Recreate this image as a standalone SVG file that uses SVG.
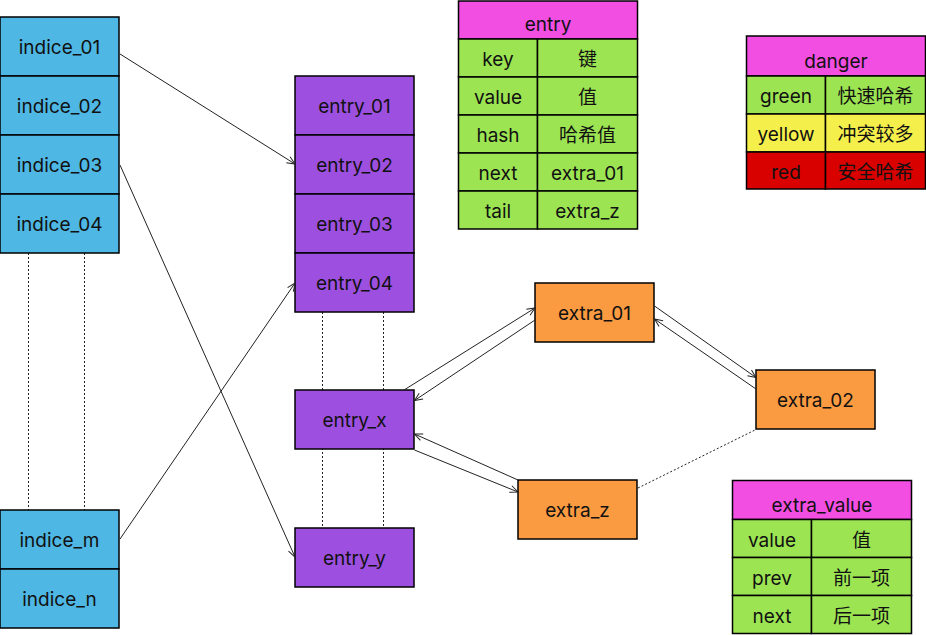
<svg xmlns="http://www.w3.org/2000/svg" width="926" height="635" viewBox="0 0 926 635">
<style>
text{font-family:Inter,"Noto Sans","Noto Sans CJK SC",sans-serif;font-size:19px;fill:#111;text-anchor:middle}
.b{fill:#4fb7e3;stroke:#000;stroke-width:1.5}
.p{fill:#9d50df;stroke:#000;stroke-width:1.5}
.o{fill:#fb9b41;stroke:#000;stroke-width:1.5}
.m{fill:#f24ee2;stroke:#000;stroke-width:1.5}
.g{fill:#9de453;stroke:#000;stroke-width:1.5}
.y{fill:#f5ef4c;stroke:#000;stroke-width:1.5}
.r{fill:#d90000;stroke:#000;stroke-width:1.5}
.c{fill:none;stroke:#222;stroke-width:1}
.d{fill:none;stroke:#222;stroke-width:1;stroke-dasharray:2 2}
</style>
<defs>
<marker id="a" markerWidth="10" markerHeight="10" refX="9" refY="5" orient="auto" markerUnits="userSpaceOnUse">
<path d="M1,1.5 L9,5 L1,8.5" fill="none" stroke="#222" stroke-width="1"/>
</marker>
</defs>
<g id="dotted">
<line class="d" x1="28.5" y1="253" x2="28.5" y2="510"/>
<line class="d" x1="84.5" y1="253" x2="84.5" y2="510"/>
<line class="d" x1="322.5" y1="312" x2="322.5" y2="528"/>
<line class="d" x1="383.5" y1="312" x2="383.5" y2="528"/>
</g>
<g id="indices">
<g id="indice_01"><rect class="b" x="0" y="17" width="119" height="59"/><text x="59.5" y="54">indice_01</text></g>
<g id="indice_02"><rect class="b" x="0" y="76" width="119" height="59"/><text x="59.5" y="113">indice_02</text></g>
<g id="indice_03"><rect class="b" x="0" y="135" width="119" height="59"/><text x="59.5" y="172">indice_03</text></g>
<g id="indice_04"><rect class="b" x="0" y="194" width="119" height="59"/><text x="59.5" y="231">indice_04</text></g>
<g id="indice_m"><rect class="b" x="0" y="510" width="119" height="59"/><text x="59.5" y="547">indice_m</text></g>
<g id="indice_n"><rect class="b" x="0" y="569" width="119" height="59"/><text x="59.5" y="606">indice_n</text></g>
</g>
<g id="entries">
<g id="entry_01"><rect class="p" x="295" y="76" width="119" height="59"/><text x="354.5" y="113">entry_01</text></g>
<g id="entry_02"><rect class="p" x="295" y="135" width="119" height="59"/><text x="354.5" y="172">entry_02</text></g>
<g id="entry_03"><rect class="p" x="295" y="194" width="119" height="59"/><text x="354.5" y="231">entry_03</text></g>
<g id="entry_04"><rect class="p" x="295" y="253" width="119" height="59"/><text x="354.5" y="290">entry_04</text></g>
<g id="entry_x"><rect class="p" x="295" y="390" width="119" height="59"/><text x="354.5" y="427">entry_x</text></g>
<g id="entry_y"><rect class="p" x="295" y="528" width="119" height="59"/><text x="354.5" y="565">entry_y</text></g>
</g>
<g id="extras">
<g id="extra_01"><rect class="o" x="535" y="283" width="119" height="59"/><text x="594.5" y="320">extra_01</text></g>
<g id="extra_02"><rect class="o" x="756" y="370" width="119" height="59"/><text x="815.5" y="407">extra_02</text></g>
<g id="extra_z"><rect class="o" x="518" y="480" width="119" height="59"/><text x="577.5" y="517">extra_z</text></g>
</g>
<g id="entry_table">
<rect class="m" x="458.5" y="1" width="179" height="38"/><text x="548" y="31">entry</text>
<rect class="g" x="458.5" y="39" width="79" height="38"/><rect class="g" x="537.5" y="39" width="100" height="38"/>
<text x="498" y="66">key</text><text x="587.5" y="66">键</text>
<rect class="g" x="458.5" y="77" width="79" height="38"/><rect class="g" x="537.5" y="77" width="100" height="38"/>
<text x="498" y="104">value</text><text x="587.5" y="104">值</text>
<rect class="g" x="458.5" y="115" width="79" height="38"/><rect class="g" x="537.5" y="115" width="100" height="38"/>
<text x="498" y="142">hash</text><text x="587.5" y="142">哈希值</text>
<rect class="g" x="458.5" y="153" width="79" height="38"/><rect class="g" x="537.5" y="153" width="100" height="38"/>
<text x="498" y="180">next</text><text x="587.5" y="180">extra_01</text>
<rect class="g" x="458.5" y="191" width="79" height="38"/><rect class="g" x="537.5" y="191" width="100" height="38"/>
<text x="498" y="218">tail</text><text x="587.5" y="218">extra_z</text>
</g>
<g id="danger_table">
<rect class="m" x="746.5" y="36" width="179" height="40"/><text x="836" y="68">danger</text>
<rect class="g" x="746.5" y="76" width="79" height="38"/><rect class="g" x="825.5" y="76" width="100" height="38"/>
<text x="786" y="103">green</text><text x="875.5" y="103">快速哈希</text>
<rect class="y" x="746.5" y="114" width="79" height="38"/><rect class="y" x="825.5" y="114" width="100" height="38"/>
<text x="786" y="141">yellow</text><text x="875.5" y="141">冲突较多</text>
<rect class="r" x="746.5" y="152" width="79" height="37"/><rect class="r" x="825.5" y="152" width="100" height="37"/>
<text x="786" y="179">red</text><text x="875.5" y="179">安全哈希</text>
</g>
<g id="extra_value_table">
<rect class="m" x="732.5" y="480.5" width="179" height="39"/><text x="822" y="512">extra_value</text>
<rect class="g" x="732.5" y="519.5" width="79" height="38"/><rect class="g" x="811.5" y="519.5" width="100" height="38"/>
<text x="772" y="547">value</text><text x="861.5" y="547">值</text>
<rect class="g" x="732.5" y="557.5" width="79" height="38"/><rect class="g" x="811.5" y="557.5" width="100" height="38"/>
<text x="772" y="585">prev</text><text x="861.5" y="585">前一项</text>
<rect class="g" x="732.5" y="595.5" width="79" height="38"/><rect class="g" x="811.5" y="595.5" width="100" height="38"/>
<text x="772" y="623">next</text><text x="861.5" y="623">后一项</text>
</g>
<g id="connectors">
<line class="c" x1="120" y1="54" x2="295" y2="164" marker-end="url(#a)"/>
<line class="c" x1="120" y1="165" x2="295" y2="557" marker-end="url(#a)"/>
<line class="c" x1="120" y1="539" x2="295" y2="283" marker-end="url(#a)"/>
<line class="c" x1="404" y1="390" x2="535" y2="308" marker-end="url(#a)"/>
<line class="c" x1="535" y1="320" x2="414.5" y2="400.5" marker-end="url(#a)"/>
<line class="c" x1="414.5" y1="450" x2="518" y2="492" marker-end="url(#a)"/>
<line class="c" x1="518" y1="480" x2="414.5" y2="434" marker-end="url(#a)"/>
<line class="c" x1="654.5" y1="306" x2="756" y2="377.5" marker-end="url(#a)"/>
<line class="c" x1="756" y1="389" x2="654.5" y2="319" marker-end="url(#a)"/>
<line class="d" x1="638" y1="488" x2="756" y2="429.5"/>
</g>
</svg>
